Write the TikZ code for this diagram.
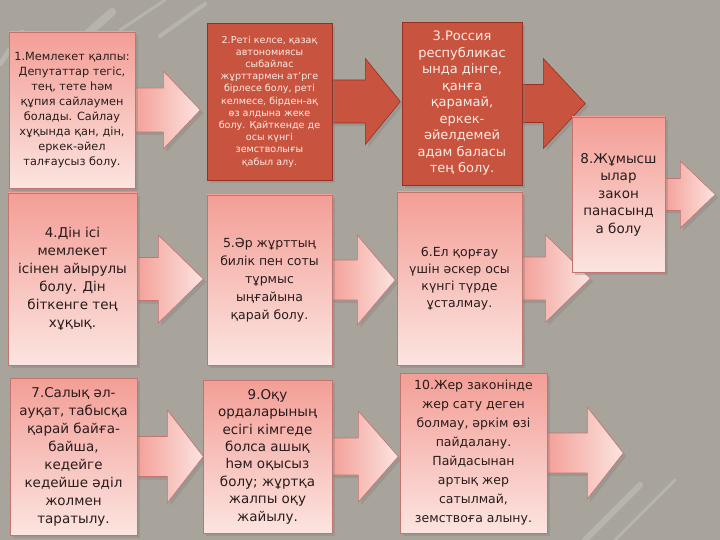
\documentclass[tikz,border=0pt]{standalone}
\usepackage{fontspec}
\setmainfont{DejaVu Sans}
\usetikzlibrary{calc,shadows,positioning}
\definecolor{slideGray}{RGB}{168,164,156}
\definecolor{alashRed}{RGB}{200,83,62}
\definecolor{alashEdge}{RGB}{150,48,34}
\definecolor{pinkTop}{RGB}{243,158,150}
\definecolor{pinkPale}{RGB}{252,228,224}
\definecolor{pinkEdge}{RGB}{196,116,110}
\definecolor{inkDark}{RGB}{40,28,28}
\definecolor{inkLight}{RGB}{252,236,230}
\pgfdeclarelayer{bg}
\pgfdeclarelayer{arr}
\pgfsetlayers{bg,arr,main}
\tikzset{
  shadowed/.style={drop shadow={opacity=0.35,shadow xshift=3pt,shadow yshift=-3pt}},
  lightbox/.style={shadowed,draw=pinkEdge,line width=0.6pt,top color=pinkTop,bottom color=pinkPale,
    text=inkDark,align=center,inner sep=2pt},
  darkbox/.style={shadowed,draw=alashEdge,line width=0.6pt,fill=alashRed,
    text=inkLight,align=center,inner sep=2pt},
  lightarr/.style={shadowed,draw=pinkEdge,line width=0.6pt,left color=pinkTop,right color=pinkPale},
  darkarr/.style={shadowed,draw=alashEdge,line width=0.6pt,fill=alashRed},
  streak/.style={white,opacity=0.18,line cap=round},
}
% block arrow out of a box: [style]{node}{shaft half}{head half}{shaft length}{head length}
\newcommand{\progarrow}[6][lightarr]{%
  \draw[#1] ($(#2.east)+(-3,-#3)$) -- ($(#2.east)+(#5,-#3)$) -- ($(#2.east)+(#5,-#4)$)
    -- ($(#2.east)+(#5+#6,0)$) -- ($(#2.east)+(#5,#4)$) -- ($(#2.east)+(#5,#3)$)
    -- ($(#2.east)+(-3,#3)$) -- cycle;}
\newcommand{\fs}[2]{\fontsize{#1}{#2}\selectfont}

\begin{document}
\begin{tikzpicture}[x=1pt,y=-1pt]
  \useasboundingbox (0,0) rectangle (720,540);
  \begin{pgfonlayer}{bg}
    \fill[slideGray] (0,0) rectangle (720,540);
    % light streaks of the slide
    \draw[streak,line width=5pt] (0,64) -- (22,32);
    \draw[streak,line width=8pt] (78,42) -- (112,12);
    \draw[streak,line width=3pt] (120,30) -- (165,0);
    \draw[streak,line width=4pt] (160,36) -- (205,4);
    \draw[streak,line width=6pt] (585,540) -- (640,485);
    \draw[streak,line width=3pt] (615,540) -- (675,480);
  \end{pgfonlayer}

  % first row
  \node[lightbox,minimum width=126,minimum height=156,font=\fs{11.3}{15}] (p1) at (72,110)
    {1.Мемлекет қалпы:\\Депутаттар тегіс,\\тең, тете һәм\\құпия сайлаумен\\болады. Сайлау\\хұқында қан, дін,\\еркек-әйел\\талғаусыз болу.};
  \node[darkbox,minimum width=125,minimum height=157,font=\fs{9.6}{12.2}] (p2) at (269.5,101.5)
    {2.Реті келсе, қазақ\\автономиясы\\сыбайлас\\жұрттармен ат'рге\\бірлесе болу, реті\\келмесе, бірден-ақ\\өз алдына жеке\\болу. Қайткенде де\\осы күнгі\\земстволығы\\қабыл алу.};
  \node[darkbox,minimum width=120,minimum height=163,font=\fs{13}{16.5}] (p3) at (462,103.5)
    {3.Россия\\республикас\\ында дінге,\\қанға\\қарамай,\\еркек-\\әйелдемей\\адам баласы\\тең болу.};
  \node[lightbox,minimum width=93,minimum height=155,font=\fs{13.5}{17.5}] (p8) at (618.5,194.5)
    {8.Жұмысш\\ылар\\закон\\панасынд\\а болу};
  % second row
  \node[lightbox,minimum width=129,minimum height=172,font=\fs{13.5}{18}] (p4) at (72.5,279)
    {4.Дін ісі\\мемлекет\\ісінен айырулы\\болу. Дін\\біткенге тең\\хұқық.};
  \node[lightbox,minimum width=125,minimum height=170,font=\fs{12.5}{18}] (p5) at (269.5,280)
    {5.Әр жұрттың\\билік пен соты\\тұрмыс\\ыңғайына\\қарай болу.};
  \node[lightbox,minimum width=125,minimum height=173,font=\fs{12.5}{17}] (p6) at (459.5,278.5)
    {6.Ел қорғау\\үшін әскер осы\\күнгі түрде\\ұсталмау.};
  % third row
  \node[lightbox,minimum width=127,minimum height=157,font=\fs{13.5}{18}] (p7) at (73.5,456.5)
    {7.Салық әл-\\ауқат, табысқа\\қарай байға-\\байша,\\кедейге\\кедейше әділ\\жолмен\\таратылу.};
  \node[lightbox,minimum width=129,minimum height=153,font=\fs{13.5}{17.4}] (p9) at (267.5,456.5)
    {9.Оқу\\ордаларының\\есігі кімгеде\\болса ашық\\һәм оқысыз\\болу; жұртқа\\жалпы оқу\\жайылу.};
  \node[lightbox,minimum width=147,minimum height=160,font=\fs{12.5}{19}] (p10) at (473.5,453)
    {10.Жер законінде\\жер сату деген\\болмау, әркім өзі\\пайдалану.\\Пайдасынан\\артық жер\\сатылмай,\\земствоға алыну.};

  \begin{pgfonlayer}{arr}
    \progarrow{p1}{22}{39}{28}{37}
    \progarrow[darkarr]{p2}{21.5}{43}{33}{35}
    \progarrow[darkarr]{p3}{19}{45}{21}{42}
    \progarrow{p8}{16}{33.5}{15}{35}
    \progarrow{p4}{21.5}{44}{21}{45}
    \progarrow{p5}{20}{45}{25}{38}
    \progarrow{p6}{21.5}{44}{23}{45}
    \progarrow{p7}{20}{46.5}{30}{36}
    \progarrow{p9}{18.5}{45.5}{26}{40}
    \progarrow{p10}{20}{46}{40}{36}
  \end{pgfonlayer}
\end{tikzpicture}
\end{document}
